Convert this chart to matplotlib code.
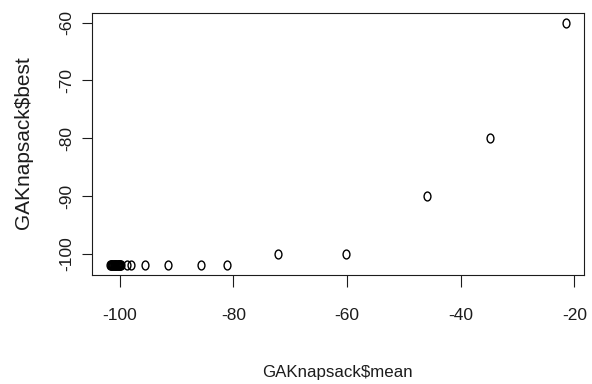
import matplotlib.pyplot as plt
from matplotlib.path import Path
from matplotlib.transforms import Affine2D

# GAKnapsack$mean / GAKnapsack$best
# the run of overlapping points near -100 shows as one solid black blob
mean_vals = [-101.7, -101.6, -101.5, -101.4, -101.3, -101.2, -101.1, -101.0, -100.9, -100.8,
             -100.7, -100.6, -100.5, -100.4, -100.3, -100.2, -100.1, -100.0, -99.9, -99.8,
             -98.7, -98.1, -95.5, -91.5, -85.8, -81.1,
             -72.2, -60.2, -45.9, -34.8, -21.5]
best_vals = [-102] * 20 + [-102, -102, -102, -102, -102, -102,
                           -100, -100, -90, -80, -60]
x_ticks = [-100, -80, -60, -40, -20]
y_ticks = [-100, -90, -80, -70, -60]


def r_range(vals):
    # R pads the data range by 4% on each side
    lo, hi = min(vals), max(vals)
    d = (hi - lo) * 0.04
    return lo - d, hi + d


plt.rcParams["font.family"] = ["Liberation Sans", "DejaVu Sans"]
ink = "#1c1c1c"

fig = plt.figure(figsize=(5.92, 3.84), dpi=100)
ax = fig.add_axes([92 / 592, 1 - 275 / 384, 492 / 592, 262 / 384])

# the source image is a bit stretched vertically, so the circles are slightly tall
ellipse = Path.unit_circle().transformed(Affine2D().scale(0.77, 1.0))
ax.plot(mean_vals, best_vals, linestyle="none", marker=ellipse, markersize=6.4,
        markerfacecolor="none", markeredgecolor="black", markeredgewidth=1.0)

ax.set_xlim(*r_range(mean_vals))
ax.set_ylim(*r_range(best_vals))
ax.set_xticks(x_ticks)
ax.set_yticks(y_ticks)
ax.set_xticklabels([str(v) for v in x_ticks])
ax.set_yticklabels([str(v) for v in y_ticks], rotation=90, va="center")

for s in ax.spines.values():
    s.set_linewidth(0.8)
    s.set_color(ink)
ax.tick_params(axis="x", length=8.5, width=0.8, pad=15, labelsize=12.5, color=ink, labelcolor=ink)
ax.tick_params(axis="y", length=7.5, width=0.8, pad=5, labelsize=12.5, color=ink, labelcolor=ink)

fig.text(337.5 / 592, 1 - 372 / 384, "GAKnapsack$mean", ha="center", va="center",
         fontsize=12.2, color=ink)
fig.text(24 / 592, 1 - 142.5 / 384, "GAKnapsack$best", ha="center", va="center",
         rotation=90, fontsize=15, color=ink)

fig.savefig("out.png", dpi=100)
